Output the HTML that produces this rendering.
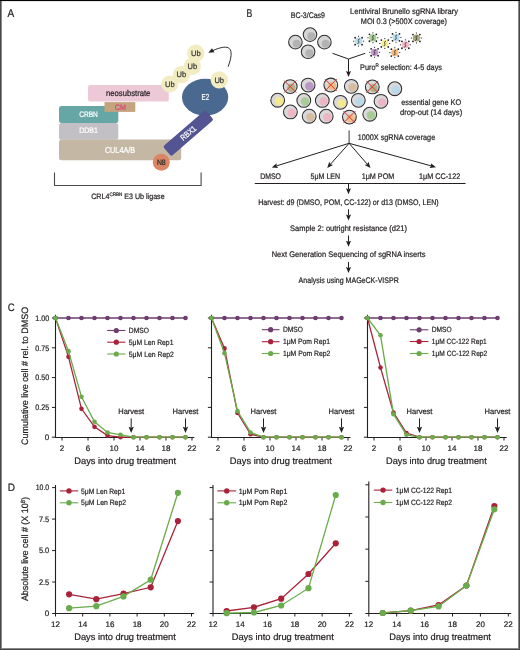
<!DOCTYPE html><html><head><meta charset="utf-8"><style>html,body{margin:0;padding:0;background:#fff;}svg{display:block;will-change:transform;}</style></head><body><svg width="520" height="650" viewBox="0 0 520 650" font-family='"Liberation Sans", sans-serif' text-rendering="geometricPrecision">
<rect x="0" y="0" width="520" height="650" fill="#ffffff"/>
<text x="7.60" y="17.00" font-size="11.3" fill="#231f20" stroke="#231f20" stroke-width="0.22" text-anchor="start" textLength="6.70" lengthAdjust="spacingAndGlyphs" >A</text>
<rect x="88" y="85" width="80.8" height="16.5" rx="2" fill="#edc9d8"/>
<text x="106.00" y="95.90" font-size="8.5" fill="#231f20" stroke="#231f20" stroke-width="0.22" text-anchor="start" textLength="44.40" lengthAdjust="spacingAndGlyphs" >neosubstrate</text>
<rect x="59" y="106" width="59.3" height="17.1" rx="2.5" fill="#66a7a5"/>
<rect x="104.5" y="102.1" width="30.8" height="9.8" fill="#c4a47d"/>
<text x="114.80" y="109.60" font-size="7.8" fill="#d8457c" stroke="#d8457c" stroke-width="0.22" text-anchor="start" textLength="11.20" lengthAdjust="spacingAndGlyphs" >CM</text>
<text x="79.20" y="116.80" font-size="8.0" fill="#ffffff" stroke="#ffffff" stroke-width="0.22" text-anchor="start" textLength="18.60" lengthAdjust="spacingAndGlyphs" >CRBN</text>
<rect x="59" y="123.0" width="59.3" height="16.7" rx="2.5" fill="#c2c0c5"/>
<text x="79.20" y="133.40" font-size="8.0" fill="#ffffff" stroke="#ffffff" stroke-width="0.22" text-anchor="start" textLength="18.60" lengthAdjust="spacingAndGlyphs" >DDB1</text>
<rect x="59" y="139.4" width="122.2" height="20.8" rx="2.5" fill="#c4b7a3"/>
<text x="104.90" y="153.00" font-size="8.7" fill="#ffffff" stroke="#ffffff" stroke-width="0.22" text-anchor="start" textLength="30.20" lengthAdjust="spacingAndGlyphs" >CUL4A/B</text>
<ellipse cx="205.1" cy="97.2" rx="23.1" ry="18.4" fill="#4a6990"/>
<text x="201.60" y="100.10" font-size="8.7" fill="#ffffff" stroke="#ffffff" stroke-width="0.22" text-anchor="start" textLength="7.60" lengthAdjust="spacingAndGlyphs" >E2</text>
<g transform="translate(188.3,133.2) rotate(-40.8)">
<rect x="-28" y="-6.4" width="56" height="12.8" rx="2" fill="#535593"/>
<text x="0" y="2.7" font-size="8.2" fill="#ffffff" stroke="#ffffff" stroke-width="0.22" text-anchor="middle" textLength="17.9" lengthAdjust="spacingAndGlyphs">RBX1</text>
</g>
<circle cx="161.3" cy="162.2" r="8.5" fill="#db8567"/>
<text x="156.90" y="165.00" font-size="7.8" fill="#2a2a2a" stroke="#2a2a2a" stroke-width="0.22" text-anchor="start" textLength="8.80" lengthAdjust="spacingAndGlyphs" >N8</text>
<circle cx="169.8" cy="84.0" r="8.6" fill="#f2ecc3"/>
<circle cx="181.4" cy="74.6" r="8.6" fill="#f2ecc3"/>
<circle cx="192.3" cy="66.3" r="8.6" fill="#f2ecc3"/>
<circle cx="195.8" cy="53.2" r="8.6" fill="#f2ecc3"/>
<circle cx="219.2" cy="79.9" r="8.6" fill="#f2ecc3"/>
<text x="169.80" y="86.60" font-size="7.8" fill="#333333" stroke="#333333" stroke-width="0.22" text-anchor="middle" textLength="9.60" lengthAdjust="spacingAndGlyphs" >Ub</text>
<text x="181.40" y="77.20" font-size="7.8" fill="#333333" stroke="#333333" stroke-width="0.22" text-anchor="middle" textLength="9.60" lengthAdjust="spacingAndGlyphs" >Ub</text>
<text x="192.30" y="68.90" font-size="7.8" fill="#333333" stroke="#333333" stroke-width="0.22" text-anchor="middle" textLength="9.60" lengthAdjust="spacingAndGlyphs" >Ub</text>
<text x="195.80" y="55.80" font-size="7.8" fill="#333333" stroke="#333333" stroke-width="0.22" text-anchor="middle" textLength="9.60" lengthAdjust="spacingAndGlyphs" >Ub</text>
<text x="219.20" y="82.50" font-size="7.8" fill="#333333" stroke="#333333" stroke-width="0.22" text-anchor="middle" textLength="9.60" lengthAdjust="spacingAndGlyphs" >Ub</text>
<path d="M228.1,66.8 C231.2,58.5 232.4,51.5 229.4,48.6 C226.8,46.2 221.5,46.8 212.8,50.6" fill="none" stroke="#222" stroke-width="0.95"/>
<path d="M208.3,52.7 L212.0,48.2 L214.4,52.2 Z" fill="#222"/>
<path d="M54.5,172.4 V185.5 H201.1 V172.4" fill="none" stroke="#4a4a4a" stroke-width="1.1"/>
<text x="91.2" y="199.3" font-size="7.8" fill="#231f20" stroke="#231f20" stroke-width="0.22" textLength="73.4" lengthAdjust="spacingAndGlyphs">CRL4<tspan font-size="5" dy="-3">CRBN</tspan><tspan dy="3"> E3 Ub ligase</tspan></text>
<text x="246.50" y="16.90" font-size="11.3" fill="#231f20" stroke="#231f20" stroke-width="0.22" text-anchor="start" textLength="5.80" lengthAdjust="spacingAndGlyphs" >B</text>
<text x="290.80" y="17.60" font-size="8.1" fill="#231f20" stroke="#231f20" stroke-width="0.22" text-anchor="start" textLength="34.20" lengthAdjust="spacingAndGlyphs" >BC-3/Cas9</text>
<text x="350.00" y="14.20" font-size="8.1" fill="#231f20" stroke="#231f20" stroke-width="0.22" text-anchor="start" textLength="108.00" lengthAdjust="spacingAndGlyphs" >Lentiviral Brunello sgRNA library</text>
<text x="360.80" y="23.90" font-size="8.1" fill="#231f20" stroke="#231f20" stroke-width="0.22" text-anchor="start" textLength="86.20" lengthAdjust="spacingAndGlyphs" >MOI 0.3 (&gt;500X coverage)</text>
<circle cx="310.0" cy="34.6" r="6.8" fill="#d6d6d6" stroke="#2e2e2e" stroke-width="1.05"/>
<circle cx="311.30" cy="36.20" r="4.0" fill="#b3b3b3"/>
<circle cx="295.4" cy="42.1" r="6.8" fill="#d6d6d6" stroke="#2e2e2e" stroke-width="1.05"/>
<circle cx="296.70" cy="43.70" r="4.0" fill="#b3b3b3"/>
<circle cx="324.4" cy="42.1" r="6.8" fill="#d6d6d6" stroke="#2e2e2e" stroke-width="1.05"/>
<circle cx="325.70" cy="43.70" r="4.0" fill="#b3b3b3"/>
<circle cx="308.1" cy="51.7" r="6.8" fill="#d6d6d6" stroke="#2e2e2e" stroke-width="1.05"/>
<circle cx="309.40" cy="53.30" r="4.0" fill="#b3b3b3"/>
<circle cx="358.6" cy="41.2" r="3.6" fill="#bbdcee"/>
<circle cx="362.06" cy="44.66" r="0.9" fill="#1e1e1e"/>
<line x1="358.60" y1="45.50" x2="358.60" y2="46.70" stroke="#333" stroke-width="1.0"/>
<circle cx="355.14" cy="44.66" r="0.9" fill="#1e1e1e"/>
<line x1="354.30" y1="41.20" x2="353.10" y2="41.20" stroke="#333" stroke-width="1.0"/>
<circle cx="355.14" cy="37.74" r="0.9" fill="#1e1e1e"/>
<line x1="358.60" y1="36.90" x2="358.60" y2="35.70" stroke="#333" stroke-width="1.0"/>
<circle cx="362.06" cy="37.74" r="0.9" fill="#1e1e1e"/>
<line x1="362.90" y1="41.20" x2="364.10" y2="41.20" stroke="#333" stroke-width="1.0"/>
<path d="M359.80,38.90 C358.40,38.60 358.00,40.60 358.60,41.20 C359.10,41.80 358.80,43.80 357.40,43.50" fill="none" stroke="#1e1e1e" stroke-width="0.75"/>
<circle cx="372.9" cy="37.8" r="3.6" fill="#a4cc93"/>
<circle cx="376.36" cy="41.26" r="0.9" fill="#1e1e1e"/>
<line x1="372.90" y1="42.10" x2="372.90" y2="43.30" stroke="#333" stroke-width="1.0"/>
<circle cx="369.44" cy="41.26" r="0.9" fill="#1e1e1e"/>
<line x1="368.60" y1="37.80" x2="367.40" y2="37.80" stroke="#333" stroke-width="1.0"/>
<circle cx="369.44" cy="34.34" r="0.9" fill="#1e1e1e"/>
<line x1="372.90" y1="33.50" x2="372.90" y2="32.30" stroke="#333" stroke-width="1.0"/>
<circle cx="376.36" cy="34.34" r="0.9" fill="#1e1e1e"/>
<line x1="377.20" y1="37.80" x2="378.40" y2="37.80" stroke="#333" stroke-width="1.0"/>
<path d="M374.10,35.50 C372.70,35.20 372.30,37.20 372.90,37.80 C373.40,38.40 373.10,40.40 371.70,40.10" fill="none" stroke="#1e1e1e" stroke-width="0.75"/>
<circle cx="384.8" cy="43.5" r="3.6" fill="#f8ee92"/>
<circle cx="388.26" cy="46.96" r="0.9" fill="#1e1e1e"/>
<line x1="384.80" y1="47.80" x2="384.80" y2="49.00" stroke="#333" stroke-width="1.0"/>
<circle cx="381.34" cy="46.96" r="0.9" fill="#1e1e1e"/>
<line x1="380.50" y1="43.50" x2="379.30" y2="43.50" stroke="#333" stroke-width="1.0"/>
<circle cx="381.34" cy="40.04" r="0.9" fill="#1e1e1e"/>
<line x1="384.80" y1="39.20" x2="384.80" y2="38.00" stroke="#333" stroke-width="1.0"/>
<circle cx="388.26" cy="40.04" r="0.9" fill="#1e1e1e"/>
<line x1="389.10" y1="43.50" x2="390.30" y2="43.50" stroke="#333" stroke-width="1.0"/>
<path d="M386.00,41.20 C384.60,40.90 384.20,42.90 384.80,43.50 C385.30,44.10 385.00,46.10 383.60,45.80" fill="none" stroke="#1e1e1e" stroke-width="0.75"/>
<circle cx="396.0" cy="37.4" r="3.6" fill="#bbdcee"/>
<circle cx="399.46" cy="40.86" r="0.9" fill="#1e1e1e"/>
<line x1="396.00" y1="41.70" x2="396.00" y2="42.90" stroke="#333" stroke-width="1.0"/>
<circle cx="392.54" cy="40.86" r="0.9" fill="#1e1e1e"/>
<line x1="391.70" y1="37.40" x2="390.50" y2="37.40" stroke="#333" stroke-width="1.0"/>
<circle cx="392.54" cy="33.94" r="0.9" fill="#1e1e1e"/>
<line x1="396.00" y1="33.10" x2="396.00" y2="31.90" stroke="#333" stroke-width="1.0"/>
<circle cx="399.46" cy="33.94" r="0.9" fill="#1e1e1e"/>
<line x1="400.30" y1="37.40" x2="401.50" y2="37.40" stroke="#333" stroke-width="1.0"/>
<path d="M397.20,35.10 C395.80,34.80 395.40,36.80 396.00,37.40 C396.50,38.00 396.20,40.00 394.80,39.70" fill="none" stroke="#1e1e1e" stroke-width="0.75"/>
<circle cx="405.4" cy="44.8" r="3.6" fill="#f2b8ca"/>
<circle cx="408.86" cy="48.26" r="0.9" fill="#1e1e1e"/>
<line x1="405.40" y1="49.10" x2="405.40" y2="50.30" stroke="#333" stroke-width="1.0"/>
<circle cx="401.94" cy="48.26" r="0.9" fill="#1e1e1e"/>
<line x1="401.10" y1="44.80" x2="399.90" y2="44.80" stroke="#333" stroke-width="1.0"/>
<circle cx="401.94" cy="41.34" r="0.9" fill="#1e1e1e"/>
<line x1="405.40" y1="40.50" x2="405.40" y2="39.30" stroke="#333" stroke-width="1.0"/>
<circle cx="408.86" cy="41.34" r="0.9" fill="#1e1e1e"/>
<line x1="409.70" y1="44.80" x2="410.90" y2="44.80" stroke="#333" stroke-width="1.0"/>
<path d="M406.60,42.50 C405.20,42.20 404.80,44.20 405.40,44.80 C405.90,45.40 405.60,47.40 404.20,47.10" fill="none" stroke="#1e1e1e" stroke-width="0.75"/>
<circle cx="416.4" cy="38.0" r="3.6" fill="#aaa581"/>
<circle cx="419.86" cy="41.46" r="0.9" fill="#1e1e1e"/>
<line x1="416.40" y1="42.30" x2="416.40" y2="43.50" stroke="#333" stroke-width="1.0"/>
<circle cx="412.94" cy="41.46" r="0.9" fill="#1e1e1e"/>
<line x1="412.10" y1="38.00" x2="410.90" y2="38.00" stroke="#333" stroke-width="1.0"/>
<circle cx="412.94" cy="34.54" r="0.9" fill="#1e1e1e"/>
<line x1="416.40" y1="33.70" x2="416.40" y2="32.50" stroke="#333" stroke-width="1.0"/>
<circle cx="419.86" cy="34.54" r="0.9" fill="#1e1e1e"/>
<line x1="420.70" y1="38.00" x2="421.90" y2="38.00" stroke="#333" stroke-width="1.0"/>
<path d="M417.60,35.70 C416.20,35.40 415.80,37.40 416.40,38.00 C416.90,38.60 416.60,40.60 415.20,40.30" fill="none" stroke="#1e1e1e" stroke-width="0.75"/>
<circle cx="374.6" cy="52.3" r="3.6" fill="#bf96cc"/>
<circle cx="378.06" cy="55.76" r="0.9" fill="#1e1e1e"/>
<line x1="374.60" y1="56.60" x2="374.60" y2="57.80" stroke="#333" stroke-width="1.0"/>
<circle cx="371.14" cy="55.76" r="0.9" fill="#1e1e1e"/>
<line x1="370.30" y1="52.30" x2="369.10" y2="52.30" stroke="#333" stroke-width="1.0"/>
<circle cx="371.14" cy="48.84" r="0.9" fill="#1e1e1e"/>
<line x1="374.60" y1="48.00" x2="374.60" y2="46.80" stroke="#333" stroke-width="1.0"/>
<circle cx="378.06" cy="48.84" r="0.9" fill="#1e1e1e"/>
<line x1="378.90" y1="52.30" x2="380.10" y2="52.30" stroke="#333" stroke-width="1.0"/>
<path d="M375.80,50.00 C374.40,49.70 374.00,51.70 374.60,52.30 C375.10,52.90 374.80,54.90 373.40,54.60" fill="none" stroke="#1e1e1e" stroke-width="0.75"/>
<circle cx="394.8" cy="52.6" r="3.6" fill="#f6bb7c"/>
<circle cx="398.26" cy="56.06" r="0.9" fill="#1e1e1e"/>
<line x1="394.80" y1="56.90" x2="394.80" y2="58.10" stroke="#333" stroke-width="1.0"/>
<circle cx="391.34" cy="56.06" r="0.9" fill="#1e1e1e"/>
<line x1="390.50" y1="52.60" x2="389.30" y2="52.60" stroke="#333" stroke-width="1.0"/>
<circle cx="391.34" cy="49.14" r="0.9" fill="#1e1e1e"/>
<line x1="394.80" y1="48.30" x2="394.80" y2="47.10" stroke="#333" stroke-width="1.0"/>
<circle cx="398.26" cy="49.14" r="0.9" fill="#1e1e1e"/>
<line x1="399.10" y1="52.60" x2="400.30" y2="52.60" stroke="#333" stroke-width="1.0"/>
<path d="M396.00,50.30 C394.60,50.00 394.20,52.00 394.80,52.60 C395.30,53.20 395.00,55.20 393.60,54.90" fill="none" stroke="#1e1e1e" stroke-width="0.75"/>
<path d="M332.5,53.3 L348.5,59 L365.2,53.3" fill="none" stroke="#231f20" stroke-width="1.0"/>
<line x1="348.5" y1="59" x2="348.50" y2="71.90" stroke="#231f20" stroke-width="1.0"/>
<path d="M348.50,76.90 L345.95,70.90 L348.50,71.90 L351.05,70.90 Z" fill="#231f20"/>
<text x="360" y="70.4" font-size="8.1" fill="#231f20" stroke="#231f20" stroke-width="0.22" textLength="82" lengthAdjust="spacingAndGlyphs">Puro<tspan font-size="5" dy="-3">R</tspan><tspan dy="3"> selection: 4-5 days</tspan></text>
<circle cx="290.2" cy="86.6" r="6.9" fill="#dad8da" stroke="#2e2e2e" stroke-width="1.05"/>
<circle cx="291.40" cy="87.70" r="4.2" fill="#b5b08c"/>
<circle cx="308.1" cy="85.1" r="6.9" fill="#dad8da" stroke="#2e2e2e" stroke-width="1.05"/>
<circle cx="309.30" cy="86.20" r="4.2" fill="#b996c4"/>
<circle cx="330.8" cy="85.0" r="6.9" fill="#dad8da" stroke="#2e2e2e" stroke-width="1.05"/>
<circle cx="332.00" cy="86.10" r="4.2" fill="#f0bb84"/>
<circle cx="351.3" cy="86.3" r="6.9" fill="#dad8da" stroke="#2e2e2e" stroke-width="1.05"/>
<circle cx="352.50" cy="87.40" r="4.2" fill="#d8bc9f"/>
<circle cx="372.3" cy="86.9" r="6.9" fill="#dad8da" stroke="#2e2e2e" stroke-width="1.05"/>
<circle cx="373.50" cy="88.00" r="4.2" fill="#b5b08c"/>
<circle cx="394.8" cy="88.7" r="6.9" fill="#dad8da" stroke="#2e2e2e" stroke-width="1.05"/>
<circle cx="396.00" cy="89.80" r="4.2" fill="#b9d9ea"/>
<circle cx="277.7" cy="100.2" r="6.9" fill="#dad8da" stroke="#2e2e2e" stroke-width="1.05"/>
<circle cx="278.90" cy="101.30" r="4.2" fill="#f4e98c"/>
<circle cx="303.8" cy="100.4" r="6.9" fill="#dad8da" stroke="#2e2e2e" stroke-width="1.05"/>
<circle cx="305.00" cy="101.50" r="4.2" fill="#a9cb95"/>
<circle cx="322.3" cy="100.4" r="6.9" fill="#dad8da" stroke="#2e2e2e" stroke-width="1.05"/>
<circle cx="323.50" cy="101.50" r="4.2" fill="#ecb6c4"/>
<circle cx="340.4" cy="102.3" r="6.9" fill="#dad8da" stroke="#2e2e2e" stroke-width="1.05"/>
<circle cx="341.60" cy="103.40" r="4.2" fill="#f4e98c"/>
<circle cx="358.3" cy="100.3" r="6.9" fill="#dad8da" stroke="#2e2e2e" stroke-width="1.05"/>
<circle cx="359.50" cy="101.40" r="4.2" fill="#b9d9ea"/>
<circle cx="381.0" cy="101.3" r="6.9" fill="#dad8da" stroke="#2e2e2e" stroke-width="1.05"/>
<circle cx="382.20" cy="102.40" r="4.2" fill="#ecb6c4"/>
<circle cx="290.4" cy="111.9" r="6.9" fill="#dad8da" stroke="#2e2e2e" stroke-width="1.05"/>
<circle cx="291.60" cy="113.00" r="4.2" fill="#ecb6c4"/>
<circle cx="309.2" cy="116.2" r="6.9" fill="#dad8da" stroke="#2e2e2e" stroke-width="1.05"/>
<circle cx="310.40" cy="117.30" r="4.2" fill="#d8bc9f"/>
<circle cx="326.2" cy="116.2" r="6.9" fill="#dad8da" stroke="#2e2e2e" stroke-width="1.05"/>
<circle cx="327.40" cy="117.30" r="4.2" fill="#ecb6c4"/>
<circle cx="349.4" cy="117.1" r="6.9" fill="#dad8da" stroke="#2e2e2e" stroke-width="1.05"/>
<circle cx="350.60" cy="118.20" r="4.2" fill="#f0bb84"/>
<circle cx="369.8" cy="114.2" r="6.9" fill="#dad8da" stroke="#2e2e2e" stroke-width="1.05"/>
<circle cx="371.00" cy="115.30" r="4.2" fill="#a9cb95"/>
<path d="M284.20,80.60 L296.20,92.60 M296.20,80.60 L284.20,92.60" stroke="#d63a3a" stroke-width="1.0"/>
<path d="M324.80,79.00 L336.80,91.00 M336.80,79.00 L324.80,91.00" stroke="#d63a3a" stroke-width="1.0"/>
<path d="M366.30,80.90 L378.30,92.90 M378.30,80.90 L366.30,92.90" stroke="#d63a3a" stroke-width="1.0"/>
<path d="M343.40,111.10 L355.40,123.10 M355.40,111.10 L343.40,123.10" stroke="#d63a3a" stroke-width="1.0"/>
<text x="401.20" y="104.90" font-size="8.1" fill="#231f20" stroke="#231f20" stroke-width="0.22" text-anchor="start" textLength="60.00" lengthAdjust="spacingAndGlyphs" >essential gene KO</text>
<text x="399.90" y="114.60" font-size="8.1" fill="#231f20" stroke="#231f20" stroke-width="0.22" text-anchor="start" textLength="62.30" lengthAdjust="spacingAndGlyphs" >drop-out (14 days)</text>
<text x="357.70" y="139.60" font-size="8.1" fill="#231f20" stroke="#231f20" stroke-width="0.22" text-anchor="start" textLength="77.50" lengthAdjust="spacingAndGlyphs" >1000X sgRNA coverage</text>
<path d="M349.1,130.4 V143.3" stroke="#231f20" stroke-width="0.9"/>
<line x1="349.1" y1="143.3" x2="276.47" y2="165.91" stroke="#231f20" stroke-width="1.0"/>
<path d="M271.70,167.40 L276.67,163.18 L276.47,165.91 L278.19,168.05 Z" fill="#231f20"/>
<line x1="349.1" y1="143.3" x2="330.52" y2="164.17" stroke="#231f20" stroke-width="1.0"/>
<path d="M327.20,167.90 L329.28,161.72 L330.52,164.17 L333.09,165.11 Z" fill="#231f20"/>
<line x1="349.1" y1="143.3" x2="367.22" y2="164.13" stroke="#231f20" stroke-width="1.0"/>
<path d="M370.50,167.90 L364.64,165.05 L367.22,164.13 L368.49,161.70 Z" fill="#231f20"/>
<line x1="349.1" y1="143.3" x2="431.18" y2="165.87" stroke="#231f20" stroke-width="1.0"/>
<path d="M436.00,167.20 L429.54,168.07 L431.18,165.87 L430.89,163.15 Z" fill="#231f20"/>
<text x="260.20" y="178.80" font-size="8.1" fill="#231f20" stroke="#231f20" stroke-width="0.22" text-anchor="start" textLength="20.80" lengthAdjust="spacingAndGlyphs" >DMSO</text>
<text x="310.60" y="178.80" font-size="8.1" fill="#231f20" stroke="#231f20" stroke-width="0.22" text-anchor="start" textLength="29.60" lengthAdjust="spacingAndGlyphs" >5&#956;M LEN</text>
<text x="361.70" y="178.80" font-size="8.1" fill="#231f20" stroke="#231f20" stroke-width="0.22" text-anchor="start" textLength="32.60" lengthAdjust="spacingAndGlyphs" >1&#956;M POM</text>
<text x="419.00" y="178.80" font-size="8.1" fill="#231f20" stroke="#231f20" stroke-width="0.22" text-anchor="start" textLength="41.20" lengthAdjust="spacingAndGlyphs" >1&#956;M CC-122</text>
<line x1="254.8" y1="183.5" x2="465.6" y2="183.5" stroke="#231f20" stroke-width="1.0"/>
<line x1="348.5" y1="183.5" x2="348.50" y2="189.20" stroke="#231f20" stroke-width="1.0"/>
<path d="M348.50,194.20 L345.95,188.20 L348.50,189.20 L351.05,188.20 Z" fill="#231f20"/>
<line x1="348.5" y1="209.3" x2="348.50" y2="215.40" stroke="#231f20" stroke-width="1.0"/>
<path d="M348.50,220.40 L345.95,214.40 L348.50,215.40 L351.05,214.40 Z" fill="#231f20"/>
<line x1="348.5" y1="235.5" x2="348.50" y2="241.80" stroke="#231f20" stroke-width="1.0"/>
<path d="M348.50,246.80 L345.95,240.80 L348.50,241.80 L351.05,240.80 Z" fill="#231f20"/>
<line x1="348.5" y1="261.9" x2="348.50" y2="267.90" stroke="#231f20" stroke-width="1.0"/>
<path d="M348.50,272.90 L345.95,266.90 L348.50,267.90 L351.05,266.90 Z" fill="#231f20"/>
<text x="258.20" y="204.80" font-size="8.1" fill="#231f20" stroke="#231f20" stroke-width="0.22" text-anchor="start" textLength="180.50" lengthAdjust="spacingAndGlyphs" >Harvest: d9 (DMSO, POM, CC-122) or d13 (DMSO, LEN)</text>
<text x="290.00" y="231.20" font-size="8.1" fill="#231f20" stroke="#231f20" stroke-width="0.22" text-anchor="start" textLength="116.90" lengthAdjust="spacingAndGlyphs" >Sample 2: outright resistance (d21)</text>
<text x="271.70" y="257.10" font-size="8.1" fill="#231f20" stroke="#231f20" stroke-width="0.22" text-anchor="start" textLength="153.90" lengthAdjust="spacingAndGlyphs" >Next Generation Sequencing of sgRNA inserts</text>
<text x="298.60" y="282.90" font-size="8.1" fill="#231f20" stroke="#231f20" stroke-width="0.22" text-anchor="start" textLength="100.20" lengthAdjust="spacingAndGlyphs" >Analysis using MAGeCK-VISPR</text>
<text x="7.70" y="310.80" font-size="10.8" fill="#231f20" stroke="#231f20" stroke-width="0.22" text-anchor="start" textLength="6.90" lengthAdjust="spacingAndGlyphs" >C</text>
<text transform="translate(28.1,444.9) rotate(-90)" font-size="9.3" fill="#231f20" stroke="#231f20" stroke-width="0.22" textLength="138" lengthAdjust="spacingAndGlyphs">Cumulative live cell # rel. to DMSO</text>
<path d="M55.5,314.8 V437.5 H194.4" fill="none" stroke="#231f20" stroke-width="1.1"/>
<line x1="51.9" y1="437.20" x2="55.5" y2="437.20" stroke="#231f20" stroke-width="1.0"/>
<text x="49.20" y="440.00" font-size="8.0" fill="#231f20" stroke="#231f20" stroke-width="0.22" text-anchor="end" >0</text>
<line x1="51.9" y1="407.40" x2="55.5" y2="407.40" stroke="#231f20" stroke-width="1.0"/>
<text x="49.20" y="410.20" font-size="8.0" fill="#231f20" stroke="#231f20" stroke-width="0.22" text-anchor="end" textLength="13.90" lengthAdjust="spacingAndGlyphs" >0.25</text>
<line x1="51.9" y1="377.60" x2="55.5" y2="377.60" stroke="#231f20" stroke-width="1.0"/>
<text x="49.20" y="380.40" font-size="8.0" fill="#231f20" stroke="#231f20" stroke-width="0.22" text-anchor="end" textLength="13.90" lengthAdjust="spacingAndGlyphs" >0.50</text>
<line x1="51.9" y1="347.80" x2="55.5" y2="347.80" stroke="#231f20" stroke-width="1.0"/>
<text x="49.20" y="350.60" font-size="8.0" fill="#231f20" stroke="#231f20" stroke-width="0.22" text-anchor="end" textLength="13.90" lengthAdjust="spacingAndGlyphs" >0.75</text>
<line x1="51.9" y1="318.00" x2="55.5" y2="318.00" stroke="#231f20" stroke-width="1.0"/>
<text x="49.20" y="320.80" font-size="8.0" fill="#231f20" stroke="#231f20" stroke-width="0.22" text-anchor="end" textLength="13.90" lengthAdjust="spacingAndGlyphs" >1.00</text>
<line x1="62.00" y1="437.5" x2="62.00" y2="440.5" stroke="#231f20" stroke-width="1.0"/>
<text x="62.00" y="450.80" font-size="8.0" fill="#231f20" stroke="#231f20" stroke-width="0.22" text-anchor="middle" >2</text>
<line x1="88.00" y1="437.5" x2="88.00" y2="440.5" stroke="#231f20" stroke-width="1.0"/>
<text x="88.00" y="450.80" font-size="8.0" fill="#231f20" stroke="#231f20" stroke-width="0.22" text-anchor="middle" >6</text>
<line x1="114.00" y1="437.5" x2="114.00" y2="440.5" stroke="#231f20" stroke-width="1.0"/>
<text x="114.00" y="450.80" font-size="8.0" fill="#231f20" stroke="#231f20" stroke-width="0.22" text-anchor="middle" >10</text>
<line x1="140.00" y1="437.5" x2="140.00" y2="440.5" stroke="#231f20" stroke-width="1.0"/>
<text x="140.00" y="450.80" font-size="8.0" fill="#231f20" stroke="#231f20" stroke-width="0.22" text-anchor="middle" >14</text>
<line x1="166.00" y1="437.5" x2="166.00" y2="440.5" stroke="#231f20" stroke-width="1.0"/>
<text x="166.00" y="450.80" font-size="8.0" fill="#231f20" stroke="#231f20" stroke-width="0.22" text-anchor="middle" >18</text>
<line x1="192.00" y1="437.5" x2="192.00" y2="440.5" stroke="#231f20" stroke-width="1.0"/>
<text x="192.00" y="450.80" font-size="8.0" fill="#231f20" stroke="#231f20" stroke-width="0.22" text-anchor="middle" >22</text>
<polyline points="55.50,318.00 68.50,318.00 81.50,318.00 94.50,318.00 107.50,318.00 120.50,318.00 133.50,318.00 146.50,318.00 159.50,318.00 172.50,318.00 185.50,318.00" fill="none" stroke="#6d3d70" stroke-width="1.3"/>
<circle cx="55.50" cy="318.00" r="2.3" fill="#6d3d70"/>
<circle cx="68.50" cy="318.00" r="2.3" fill="#6d3d70"/>
<circle cx="81.50" cy="318.00" r="2.3" fill="#6d3d70"/>
<circle cx="94.50" cy="318.00" r="2.3" fill="#6d3d70"/>
<circle cx="107.50" cy="318.00" r="2.3" fill="#6d3d70"/>
<circle cx="120.50" cy="318.00" r="2.3" fill="#6d3d70"/>
<circle cx="133.50" cy="318.00" r="2.3" fill="#6d3d70"/>
<circle cx="146.50" cy="318.00" r="2.3" fill="#6d3d70"/>
<circle cx="159.50" cy="318.00" r="2.3" fill="#6d3d70"/>
<circle cx="172.50" cy="318.00" r="2.3" fill="#6d3d70"/>
<circle cx="185.50" cy="318.00" r="2.3" fill="#6d3d70"/>
<polyline points="55.50,318.00 68.50,356.86 81.50,408.83 94.50,426.83 107.50,435.53 120.50,437.20 133.50,437.20 146.50,437.20 159.50,437.20 172.50,437.20 185.50,437.20" fill="none" stroke="#a8233a" stroke-width="1.3"/>
<circle cx="55.50" cy="318.00" r="2.3" fill="#a8233a"/>
<circle cx="68.50" cy="356.86" r="2.3" fill="#a8233a"/>
<circle cx="81.50" cy="408.83" r="2.3" fill="#a8233a"/>
<circle cx="94.50" cy="426.83" r="2.3" fill="#a8233a"/>
<circle cx="107.50" cy="435.53" r="2.3" fill="#a8233a"/>
<circle cx="120.50" cy="437.20" r="2.3" fill="#a8233a"/>
<circle cx="133.50" cy="437.20" r="2.3" fill="#a8233a"/>
<circle cx="146.50" cy="437.20" r="2.3" fill="#a8233a"/>
<circle cx="159.50" cy="437.20" r="2.3" fill="#a8233a"/>
<circle cx="172.50" cy="437.20" r="2.3" fill="#a8233a"/>
<circle cx="185.50" cy="437.20" r="2.3" fill="#a8233a"/>
<polyline points="55.50,318.00 68.50,351.14 81.50,396.79 94.50,421.82 107.50,432.43 120.50,434.82 133.50,437.20 146.50,437.20 159.50,437.20 172.50,437.20 185.50,437.20" fill="none" stroke="#6aab4b" stroke-width="1.3"/>
<circle cx="55.50" cy="318.00" r="2.3" fill="#6aab4b"/>
<circle cx="68.50" cy="351.14" r="2.3" fill="#6aab4b"/>
<circle cx="81.50" cy="396.79" r="2.3" fill="#6aab4b"/>
<circle cx="94.50" cy="421.82" r="2.3" fill="#6aab4b"/>
<circle cx="107.50" cy="432.43" r="2.3" fill="#6aab4b"/>
<circle cx="120.50" cy="434.82" r="2.3" fill="#6aab4b"/>
<circle cx="133.50" cy="437.20" r="2.3" fill="#6aab4b"/>
<circle cx="146.50" cy="437.20" r="2.3" fill="#6aab4b"/>
<circle cx="159.50" cy="437.20" r="2.3" fill="#6aab4b"/>
<circle cx="172.50" cy="437.20" r="2.3" fill="#6aab4b"/>
<circle cx="185.50" cy="437.20" r="2.3" fill="#6aab4b"/>
<text x="131.20" y="413.60" font-size="7.8" fill="#231f20" stroke="#231f20" stroke-width="0.22" text-anchor="middle" textLength="25.80" lengthAdjust="spacingAndGlyphs" >Harvest</text>
<line x1="131.2" y1="418.4" x2="131.20" y2="427.70" stroke="#231f20" stroke-width="1.0"/>
<path d="M131.20,433.00 L128.55,426.70 L131.20,427.70 L133.85,426.70 Z" fill="#231f20"/>
<text x="185.50" y="413.60" font-size="7.8" fill="#231f20" stroke="#231f20" stroke-width="0.22" text-anchor="middle" textLength="25.80" lengthAdjust="spacingAndGlyphs" >Harvest</text>
<line x1="185.5" y1="418.4" x2="185.50" y2="427.70" stroke="#231f20" stroke-width="1.0"/>
<path d="M185.50,433.00 L182.85,426.70 L185.50,427.70 L188.15,426.70 Z" fill="#231f20"/>
<line x1="107.2" y1="330.5" x2="125.4" y2="330.5" stroke="#6d3d70" stroke-width="1.1"/>
<circle cx="116.30" cy="330.5" r="2.6" fill="#6d3d70"/>
<text x="128.80" y="333.10" font-size="7.6" fill="#231f20" stroke="#231f20" stroke-width="0.22" text-anchor="start" textLength="20.10" lengthAdjust="spacingAndGlyphs" >DMSO</text>
<line x1="107.2" y1="342.2" x2="125.4" y2="342.2" stroke="#a8233a" stroke-width="1.1"/>
<circle cx="116.30" cy="342.2" r="2.6" fill="#a8233a"/>
<text x="128.80" y="344.80" font-size="7.6" fill="#231f20" stroke="#231f20" stroke-width="0.22" text-anchor="start" textLength="44.60" lengthAdjust="spacingAndGlyphs" >5&#956;M Len Rep1</text>
<line x1="107.2" y1="354.0" x2="125.4" y2="354.0" stroke="#6aab4b" stroke-width="1.1"/>
<circle cx="116.30" cy="354.0" r="2.6" fill="#6aab4b"/>
<text x="128.80" y="356.60" font-size="7.6" fill="#231f20" stroke="#231f20" stroke-width="0.22" text-anchor="start" textLength="45.00" lengthAdjust="spacingAndGlyphs" >5&#956;M Len Rep2</text>
<text x="74.30" y="463.80" font-size="9.4" fill="#231f20" stroke="#231f20" stroke-width="0.22" text-anchor="start" textLength="101.70" lengthAdjust="spacingAndGlyphs" >Days into drug treatment</text>
<path d="M211.5,314.8 V437.5 H350.4" fill="none" stroke="#231f20" stroke-width="1.1"/>
<line x1="207.9" y1="437.20" x2="211.5" y2="437.20" stroke="#231f20" stroke-width="1.0"/>
<line x1="207.9" y1="407.40" x2="211.5" y2="407.40" stroke="#231f20" stroke-width="1.0"/>
<line x1="207.9" y1="377.60" x2="211.5" y2="377.60" stroke="#231f20" stroke-width="1.0"/>
<line x1="207.9" y1="347.80" x2="211.5" y2="347.80" stroke="#231f20" stroke-width="1.0"/>
<line x1="207.9" y1="318.00" x2="211.5" y2="318.00" stroke="#231f20" stroke-width="1.0"/>
<line x1="218.00" y1="437.5" x2="218.00" y2="440.5" stroke="#231f20" stroke-width="1.0"/>
<text x="218.00" y="450.80" font-size="8.0" fill="#231f20" stroke="#231f20" stroke-width="0.22" text-anchor="middle" >2</text>
<line x1="244.00" y1="437.5" x2="244.00" y2="440.5" stroke="#231f20" stroke-width="1.0"/>
<text x="244.00" y="450.80" font-size="8.0" fill="#231f20" stroke="#231f20" stroke-width="0.22" text-anchor="middle" >6</text>
<line x1="270.00" y1="437.5" x2="270.00" y2="440.5" stroke="#231f20" stroke-width="1.0"/>
<text x="270.00" y="450.80" font-size="8.0" fill="#231f20" stroke="#231f20" stroke-width="0.22" text-anchor="middle" >10</text>
<line x1="296.00" y1="437.5" x2="296.00" y2="440.5" stroke="#231f20" stroke-width="1.0"/>
<text x="296.00" y="450.80" font-size="8.0" fill="#231f20" stroke="#231f20" stroke-width="0.22" text-anchor="middle" >14</text>
<line x1="322.00" y1="437.5" x2="322.00" y2="440.5" stroke="#231f20" stroke-width="1.0"/>
<text x="322.00" y="450.80" font-size="8.0" fill="#231f20" stroke="#231f20" stroke-width="0.22" text-anchor="middle" >18</text>
<line x1="348.00" y1="437.5" x2="348.00" y2="440.5" stroke="#231f20" stroke-width="1.0"/>
<text x="348.00" y="450.80" font-size="8.0" fill="#231f20" stroke="#231f20" stroke-width="0.22" text-anchor="middle" >22</text>
<polyline points="211.50,318.00 224.50,318.00 237.50,318.00 250.50,318.00 263.50,318.00 276.50,318.00 289.50,318.00 302.50,318.00 315.50,318.00 328.50,318.00 341.50,318.00" fill="none" stroke="#6d3d70" stroke-width="1.3"/>
<circle cx="211.50" cy="318.00" r="2.3" fill="#6d3d70"/>
<circle cx="224.50" cy="318.00" r="2.3" fill="#6d3d70"/>
<circle cx="237.50" cy="318.00" r="2.3" fill="#6d3d70"/>
<circle cx="250.50" cy="318.00" r="2.3" fill="#6d3d70"/>
<circle cx="263.50" cy="318.00" r="2.3" fill="#6d3d70"/>
<circle cx="276.50" cy="318.00" r="2.3" fill="#6d3d70"/>
<circle cx="289.50" cy="318.00" r="2.3" fill="#6d3d70"/>
<circle cx="302.50" cy="318.00" r="2.3" fill="#6d3d70"/>
<circle cx="315.50" cy="318.00" r="2.3" fill="#6d3d70"/>
<circle cx="328.50" cy="318.00" r="2.3" fill="#6d3d70"/>
<circle cx="341.50" cy="318.00" r="2.3" fill="#6d3d70"/>
<polyline points="211.50,318.00 224.50,348.40 237.50,412.88 250.50,434.22 263.50,437.20 276.50,437.20 289.50,437.20 302.50,437.20 315.50,437.20 328.50,437.20 341.50,437.20" fill="none" stroke="#a8233a" stroke-width="1.3"/>
<circle cx="211.50" cy="318.00" r="2.3" fill="#a8233a"/>
<circle cx="224.50" cy="348.40" r="2.3" fill="#a8233a"/>
<circle cx="237.50" cy="412.88" r="2.3" fill="#a8233a"/>
<circle cx="250.50" cy="434.22" r="2.3" fill="#a8233a"/>
<circle cx="263.50" cy="437.20" r="2.3" fill="#a8233a"/>
<circle cx="276.50" cy="437.20" r="2.3" fill="#a8233a"/>
<circle cx="289.50" cy="437.20" r="2.3" fill="#a8233a"/>
<circle cx="302.50" cy="437.20" r="2.3" fill="#a8233a"/>
<circle cx="315.50" cy="437.20" r="2.3" fill="#a8233a"/>
<circle cx="328.50" cy="437.20" r="2.3" fill="#a8233a"/>
<circle cx="341.50" cy="437.20" r="2.3" fill="#a8233a"/>
<polyline points="211.50,318.00 224.50,353.16 237.50,410.98 250.50,432.43 263.50,437.20 276.50,437.20 289.50,437.20 302.50,437.20 315.50,437.20 328.50,437.20 341.50,437.20" fill="none" stroke="#6aab4b" stroke-width="1.3"/>
<circle cx="211.50" cy="318.00" r="2.3" fill="#6aab4b"/>
<circle cx="224.50" cy="353.16" r="2.3" fill="#6aab4b"/>
<circle cx="237.50" cy="410.98" r="2.3" fill="#6aab4b"/>
<circle cx="250.50" cy="432.43" r="2.3" fill="#6aab4b"/>
<circle cx="263.50" cy="437.20" r="2.3" fill="#6aab4b"/>
<circle cx="276.50" cy="437.20" r="2.3" fill="#6aab4b"/>
<circle cx="289.50" cy="437.20" r="2.3" fill="#6aab4b"/>
<circle cx="302.50" cy="437.20" r="2.3" fill="#6aab4b"/>
<circle cx="315.50" cy="437.20" r="2.3" fill="#6aab4b"/>
<circle cx="328.50" cy="437.20" r="2.3" fill="#6aab4b"/>
<circle cx="341.50" cy="437.20" r="2.3" fill="#6aab4b"/>
<text x="263.50" y="413.60" font-size="7.8" fill="#231f20" stroke="#231f20" stroke-width="0.22" text-anchor="middle" textLength="25.80" lengthAdjust="spacingAndGlyphs" >Harvest</text>
<line x1="263.5" y1="418.4" x2="263.50" y2="427.70" stroke="#231f20" stroke-width="1.0"/>
<path d="M263.50,433.00 L260.85,426.70 L263.50,427.70 L266.15,426.70 Z" fill="#231f20"/>
<text x="341.50" y="413.60" font-size="7.8" fill="#231f20" stroke="#231f20" stroke-width="0.22" text-anchor="middle" textLength="25.80" lengthAdjust="spacingAndGlyphs" >Harvest</text>
<line x1="341.5" y1="418.4" x2="341.50" y2="427.70" stroke="#231f20" stroke-width="1.0"/>
<path d="M341.50,433.00 L338.85,426.70 L341.50,427.70 L344.15,426.70 Z" fill="#231f20"/>
<line x1="261.8" y1="329.7" x2="279.5" y2="329.7" stroke="#6d3d70" stroke-width="1.1"/>
<circle cx="270.65" cy="329.7" r="2.6" fill="#6d3d70"/>
<text x="282.90" y="332.30" font-size="7.6" fill="#231f20" stroke="#231f20" stroke-width="0.22" text-anchor="start" textLength="20.00" lengthAdjust="spacingAndGlyphs" >DMSO</text>
<line x1="261.8" y1="341.7" x2="279.5" y2="341.7" stroke="#a8233a" stroke-width="1.1"/>
<circle cx="270.65" cy="341.7" r="2.6" fill="#a8233a"/>
<text x="282.90" y="344.30" font-size="7.6" fill="#231f20" stroke="#231f20" stroke-width="0.22" text-anchor="start" textLength="47.10" lengthAdjust="spacingAndGlyphs" >1&#956;M Pom Rep1</text>
<line x1="261.8" y1="353.5" x2="279.5" y2="353.5" stroke="#6aab4b" stroke-width="1.1"/>
<circle cx="270.65" cy="353.5" r="2.6" fill="#6aab4b"/>
<text x="282.90" y="356.10" font-size="7.6" fill="#231f20" stroke="#231f20" stroke-width="0.22" text-anchor="start" textLength="47.40" lengthAdjust="spacingAndGlyphs" >1&#956;M Pom Rep2</text>
<text x="229.80" y="463.80" font-size="9.4" fill="#231f20" stroke="#231f20" stroke-width="0.22" text-anchor="start" textLength="102.10" lengthAdjust="spacingAndGlyphs" >Days into drug treatment</text>
<path d="M367.5,314.8 V437.5 H506.7" fill="none" stroke="#231f20" stroke-width="1.1"/>
<line x1="363.9" y1="437.20" x2="367.5" y2="437.20" stroke="#231f20" stroke-width="1.0"/>
<line x1="363.9" y1="407.40" x2="367.5" y2="407.40" stroke="#231f20" stroke-width="1.0"/>
<line x1="363.9" y1="377.60" x2="367.5" y2="377.60" stroke="#231f20" stroke-width="1.0"/>
<line x1="363.9" y1="347.80" x2="367.5" y2="347.80" stroke="#231f20" stroke-width="1.0"/>
<line x1="363.9" y1="318.00" x2="367.5" y2="318.00" stroke="#231f20" stroke-width="1.0"/>
<line x1="374.00" y1="437.5" x2="374.00" y2="440.5" stroke="#231f20" stroke-width="1.0"/>
<text x="374.00" y="450.80" font-size="8.0" fill="#231f20" stroke="#231f20" stroke-width="0.22" text-anchor="middle" >2</text>
<line x1="400.00" y1="437.5" x2="400.00" y2="440.5" stroke="#231f20" stroke-width="1.0"/>
<text x="400.00" y="450.80" font-size="8.0" fill="#231f20" stroke="#231f20" stroke-width="0.22" text-anchor="middle" >6</text>
<line x1="426.00" y1="437.5" x2="426.00" y2="440.5" stroke="#231f20" stroke-width="1.0"/>
<text x="426.00" y="450.80" font-size="8.0" fill="#231f20" stroke="#231f20" stroke-width="0.22" text-anchor="middle" >10</text>
<line x1="452.00" y1="437.5" x2="452.00" y2="440.5" stroke="#231f20" stroke-width="1.0"/>
<text x="452.00" y="450.80" font-size="8.0" fill="#231f20" stroke="#231f20" stroke-width="0.22" text-anchor="middle" >14</text>
<line x1="478.00" y1="437.5" x2="478.00" y2="440.5" stroke="#231f20" stroke-width="1.0"/>
<text x="478.00" y="450.80" font-size="8.0" fill="#231f20" stroke="#231f20" stroke-width="0.22" text-anchor="middle" >18</text>
<line x1="504.00" y1="437.5" x2="504.00" y2="440.5" stroke="#231f20" stroke-width="1.0"/>
<text x="504.00" y="450.80" font-size="8.0" fill="#231f20" stroke="#231f20" stroke-width="0.22" text-anchor="middle" >22</text>
<polyline points="367.50,318.00 380.50,318.00 393.50,318.00 406.50,318.00 419.50,318.00 432.50,318.00 445.50,318.00 458.50,318.00 471.50,318.00 484.50,318.00 497.50,318.00" fill="none" stroke="#6d3d70" stroke-width="1.3"/>
<circle cx="367.50" cy="318.00" r="2.3" fill="#6d3d70"/>
<circle cx="380.50" cy="318.00" r="2.3" fill="#6d3d70"/>
<circle cx="393.50" cy="318.00" r="2.3" fill="#6d3d70"/>
<circle cx="406.50" cy="318.00" r="2.3" fill="#6d3d70"/>
<circle cx="419.50" cy="318.00" r="2.3" fill="#6d3d70"/>
<circle cx="432.50" cy="318.00" r="2.3" fill="#6d3d70"/>
<circle cx="445.50" cy="318.00" r="2.3" fill="#6d3d70"/>
<circle cx="458.50" cy="318.00" r="2.3" fill="#6d3d70"/>
<circle cx="471.50" cy="318.00" r="2.3" fill="#6d3d70"/>
<circle cx="484.50" cy="318.00" r="2.3" fill="#6d3d70"/>
<circle cx="497.50" cy="318.00" r="2.3" fill="#6d3d70"/>
<polyline points="367.50,318.00 380.50,367.59 393.50,412.64 406.50,433.03 419.50,437.20 432.50,437.20 445.50,437.20 458.50,437.20 471.50,437.20 484.50,437.20 497.50,437.20" fill="none" stroke="#a8233a" stroke-width="1.3"/>
<circle cx="367.50" cy="318.00" r="2.3" fill="#a8233a"/>
<circle cx="380.50" cy="367.59" r="2.3" fill="#a8233a"/>
<circle cx="393.50" cy="412.64" r="2.3" fill="#a8233a"/>
<circle cx="406.50" cy="433.03" r="2.3" fill="#a8233a"/>
<circle cx="419.50" cy="437.20" r="2.3" fill="#a8233a"/>
<circle cx="432.50" cy="437.20" r="2.3" fill="#a8233a"/>
<circle cx="445.50" cy="437.20" r="2.3" fill="#a8233a"/>
<circle cx="458.50" cy="437.20" r="2.3" fill="#a8233a"/>
<circle cx="471.50" cy="437.20" r="2.3" fill="#a8233a"/>
<circle cx="484.50" cy="437.20" r="2.3" fill="#a8233a"/>
<circle cx="497.50" cy="437.20" r="2.3" fill="#a8233a"/>
<polyline points="367.50,318.00 380.50,335.28 393.50,414.19 406.50,434.82 419.50,437.20 432.50,437.20 445.50,437.20 458.50,437.20 471.50,437.20 484.50,437.20 497.50,437.20" fill="none" stroke="#6aab4b" stroke-width="1.3"/>
<circle cx="367.50" cy="318.00" r="2.3" fill="#6aab4b"/>
<circle cx="380.50" cy="335.28" r="2.3" fill="#6aab4b"/>
<circle cx="393.50" cy="414.19" r="2.3" fill="#6aab4b"/>
<circle cx="406.50" cy="434.82" r="2.3" fill="#6aab4b"/>
<circle cx="419.50" cy="437.20" r="2.3" fill="#6aab4b"/>
<circle cx="432.50" cy="437.20" r="2.3" fill="#6aab4b"/>
<circle cx="445.50" cy="437.20" r="2.3" fill="#6aab4b"/>
<circle cx="458.50" cy="437.20" r="2.3" fill="#6aab4b"/>
<circle cx="471.50" cy="437.20" r="2.3" fill="#6aab4b"/>
<circle cx="484.50" cy="437.20" r="2.3" fill="#6aab4b"/>
<circle cx="497.50" cy="437.20" r="2.3" fill="#6aab4b"/>
<text x="419.50" y="413.60" font-size="7.8" fill="#231f20" stroke="#231f20" stroke-width="0.22" text-anchor="middle" textLength="25.80" lengthAdjust="spacingAndGlyphs" >Harvest</text>
<line x1="419.5" y1="418.4" x2="419.50" y2="427.70" stroke="#231f20" stroke-width="1.0"/>
<path d="M419.50,433.00 L416.85,426.70 L419.50,427.70 L422.15,426.70 Z" fill="#231f20"/>
<text x="497.50" y="413.60" font-size="7.8" fill="#231f20" stroke="#231f20" stroke-width="0.22" text-anchor="middle" textLength="25.80" lengthAdjust="spacingAndGlyphs" >Harvest</text>
<line x1="497.5" y1="418.4" x2="497.50" y2="427.70" stroke="#231f20" stroke-width="1.0"/>
<path d="M497.50,433.00 L494.85,426.70 L497.50,427.70 L500.15,426.70 Z" fill="#231f20"/>
<line x1="409.8" y1="329.8" x2="428.4" y2="329.8" stroke="#6d3d70" stroke-width="1.1"/>
<circle cx="419.10" cy="329.8" r="2.6" fill="#6d3d70"/>
<text x="431.80" y="332.40" font-size="7.6" fill="#231f20" stroke="#231f20" stroke-width="0.22" text-anchor="start" textLength="19.90" lengthAdjust="spacingAndGlyphs" >DMSO</text>
<line x1="409.8" y1="341.5" x2="428.4" y2="341.5" stroke="#a8233a" stroke-width="1.1"/>
<circle cx="419.10" cy="341.5" r="2.6" fill="#a8233a"/>
<text x="431.80" y="344.10" font-size="7.6" fill="#231f20" stroke="#231f20" stroke-width="0.22" text-anchor="start" textLength="54.90" lengthAdjust="spacingAndGlyphs" >1&#956;M CC-122 Rep1</text>
<line x1="409.8" y1="353.5" x2="428.4" y2="353.5" stroke="#6aab4b" stroke-width="1.1"/>
<circle cx="419.10" cy="353.5" r="2.6" fill="#6aab4b"/>
<text x="431.80" y="356.10" font-size="7.6" fill="#231f20" stroke="#231f20" stroke-width="0.22" text-anchor="start" textLength="55.40" lengthAdjust="spacingAndGlyphs" >1&#956;M CC-122 Rep2</text>
<text x="386.10" y="463.80" font-size="9.4" fill="#231f20" stroke="#231f20" stroke-width="0.22" text-anchor="start" textLength="100.60" lengthAdjust="spacingAndGlyphs" >Days into drug treatment</text>
<text x="7.70" y="491.20" font-size="10.8" fill="#231f20" stroke="#231f20" stroke-width="0.22" text-anchor="start" textLength="7.30" lengthAdjust="spacingAndGlyphs" >D</text>
<text transform="translate(28.4,601.1) rotate(-90)" font-size="9.3" fill="#231f20" stroke="#231f20" stroke-width="0.22" textLength="104" lengthAdjust="spacingAndGlyphs">Absolute live cell # (X 10<tspan font-size="6" dy="-3.4">8</tspan><tspan dy="3.4">)</tspan></text>
<path d="M55.5,484.9 V613.5 H194.2" fill="none" stroke="#231f20" stroke-width="1.1"/>
<line x1="52.1" y1="613.50" x2="55.5" y2="613.50" stroke="#231f20" stroke-width="1.0"/>
<text x="49.20" y="616.30" font-size="8.0" fill="#231f20" stroke="#231f20" stroke-width="0.22" text-anchor="end" >0</text>
<line x1="52.1" y1="582.02" x2="55.5" y2="582.02" stroke="#231f20" stroke-width="1.0"/>
<text x="49.20" y="584.82" font-size="8.0" fill="#231f20" stroke="#231f20" stroke-width="0.22" text-anchor="end" textLength="10.30" lengthAdjust="spacingAndGlyphs" >2.5</text>
<line x1="52.1" y1="550.55" x2="55.5" y2="550.55" stroke="#231f20" stroke-width="1.0"/>
<text x="49.20" y="553.35" font-size="8.0" fill="#231f20" stroke="#231f20" stroke-width="0.22" text-anchor="end" textLength="10.30" lengthAdjust="spacingAndGlyphs" >5.0</text>
<line x1="52.1" y1="519.08" x2="55.5" y2="519.08" stroke="#231f20" stroke-width="1.0"/>
<text x="49.20" y="521.88" font-size="8.0" fill="#231f20" stroke="#231f20" stroke-width="0.22" text-anchor="end" textLength="10.30" lengthAdjust="spacingAndGlyphs" >7.5</text>
<line x1="52.1" y1="487.60" x2="55.5" y2="487.60" stroke="#231f20" stroke-width="1.0"/>
<text x="49.20" y="490.40" font-size="8.0" fill="#231f20" stroke="#231f20" stroke-width="0.22" text-anchor="end" textLength="13.50" lengthAdjust="spacingAndGlyphs" >10.0</text>
<line x1="55.50" y1="613.5" x2="55.50" y2="616.5" stroke="#231f20" stroke-width="1.0"/>
<text x="55.50" y="626.60" font-size="8.0" fill="#231f20" stroke="#231f20" stroke-width="0.22" text-anchor="middle" >12</text>
<line x1="82.70" y1="613.5" x2="82.70" y2="616.5" stroke="#231f20" stroke-width="1.0"/>
<text x="82.70" y="626.60" font-size="8.0" fill="#231f20" stroke="#231f20" stroke-width="0.22" text-anchor="middle" >14</text>
<line x1="109.90" y1="613.5" x2="109.90" y2="616.5" stroke="#231f20" stroke-width="1.0"/>
<text x="109.90" y="626.60" font-size="8.0" fill="#231f20" stroke="#231f20" stroke-width="0.22" text-anchor="middle" >16</text>
<line x1="137.10" y1="613.5" x2="137.10" y2="616.5" stroke="#231f20" stroke-width="1.0"/>
<text x="137.10" y="626.60" font-size="8.0" fill="#231f20" stroke="#231f20" stroke-width="0.22" text-anchor="middle" >18</text>
<line x1="164.30" y1="613.5" x2="164.30" y2="616.5" stroke="#231f20" stroke-width="1.0"/>
<text x="164.30" y="626.60" font-size="8.0" fill="#231f20" stroke="#231f20" stroke-width="0.22" text-anchor="middle" >20</text>
<line x1="191.50" y1="613.5" x2="191.50" y2="616.5" stroke="#231f20" stroke-width="1.0"/>
<text x="191.50" y="626.60" font-size="8.0" fill="#231f20" stroke="#231f20" stroke-width="0.22" text-anchor="middle" >22</text>
<polyline points="69.10,594.30 96.30,599.20 123.50,593.70 150.70,587.30 177.90,521.10" fill="none" stroke="#a8233a" stroke-width="1.3"/>
<circle cx="69.10" cy="594.30" r="3.1" fill="#a8233a"/>
<circle cx="96.30" cy="599.20" r="3.1" fill="#a8233a"/>
<circle cx="123.50" cy="593.70" r="3.1" fill="#a8233a"/>
<circle cx="150.70" cy="587.30" r="3.1" fill="#a8233a"/>
<circle cx="177.90" cy="521.10" r="3.1" fill="#a8233a"/>
<polyline points="69.10,608.20 96.30,606.20 123.50,596.40 150.70,579.70 177.90,492.80" fill="none" stroke="#6aab4b" stroke-width="1.3"/>
<circle cx="69.10" cy="608.20" r="3.1" fill="#6aab4b"/>
<circle cx="96.30" cy="606.20" r="3.1" fill="#6aab4b"/>
<circle cx="123.50" cy="596.40" r="3.1" fill="#6aab4b"/>
<circle cx="150.70" cy="579.70" r="3.1" fill="#6aab4b"/>
<circle cx="177.90" cy="492.80" r="3.1" fill="#6aab4b"/>
<line x1="59.8" y1="490.9" x2="78.2" y2="490.9" stroke="#a8233a" stroke-width="1.1"/>
<circle cx="69.00" cy="490.9" r="2.7" fill="#a8233a"/>
<text x="81.10" y="493.50" font-size="7.6" fill="#231f20" stroke="#231f20" stroke-width="0.22" text-anchor="start" textLength="44.20" lengthAdjust="spacingAndGlyphs" >5&#956;M Len Rep1</text>
<line x1="59.8" y1="502.8" x2="78.2" y2="502.8" stroke="#6aab4b" stroke-width="1.1"/>
<circle cx="69.00" cy="502.8" r="2.7" fill="#6aab4b"/>
<text x="81.10" y="505.40" font-size="7.6" fill="#231f20" stroke="#231f20" stroke-width="0.22" text-anchor="start" textLength="44.90" lengthAdjust="spacingAndGlyphs" >5&#956;M Len Rep2</text>
<text x="74.20" y="640.20" font-size="9.4" fill="#231f20" stroke="#231f20" stroke-width="0.22" text-anchor="start" textLength="101.60" lengthAdjust="spacingAndGlyphs" >Days into drug treatment</text>
<path d="M213.0,484.9 V613.5 H352.3" fill="none" stroke="#231f20" stroke-width="1.1"/>
<line x1="209.6" y1="613.50" x2="213.0" y2="613.50" stroke="#231f20" stroke-width="1.0"/>
<line x1="209.6" y1="582.02" x2="213.0" y2="582.02" stroke="#231f20" stroke-width="1.0"/>
<line x1="209.6" y1="550.55" x2="213.0" y2="550.55" stroke="#231f20" stroke-width="1.0"/>
<line x1="209.6" y1="519.08" x2="213.0" y2="519.08" stroke="#231f20" stroke-width="1.0"/>
<line x1="209.6" y1="487.60" x2="213.0" y2="487.60" stroke="#231f20" stroke-width="1.0"/>
<line x1="213.00" y1="613.5" x2="213.00" y2="616.5" stroke="#231f20" stroke-width="1.0"/>
<text x="213.00" y="626.60" font-size="8.0" fill="#231f20" stroke="#231f20" stroke-width="0.22" text-anchor="middle" >12</text>
<line x1="240.28" y1="613.5" x2="240.28" y2="616.5" stroke="#231f20" stroke-width="1.0"/>
<text x="240.28" y="626.60" font-size="8.0" fill="#231f20" stroke="#231f20" stroke-width="0.22" text-anchor="middle" >14</text>
<line x1="267.56" y1="613.5" x2="267.56" y2="616.5" stroke="#231f20" stroke-width="1.0"/>
<text x="267.56" y="626.60" font-size="8.0" fill="#231f20" stroke="#231f20" stroke-width="0.22" text-anchor="middle" >16</text>
<line x1="294.84" y1="613.5" x2="294.84" y2="616.5" stroke="#231f20" stroke-width="1.0"/>
<text x="294.84" y="626.60" font-size="8.0" fill="#231f20" stroke="#231f20" stroke-width="0.22" text-anchor="middle" >18</text>
<line x1="322.12" y1="613.5" x2="322.12" y2="616.5" stroke="#231f20" stroke-width="1.0"/>
<text x="322.12" y="626.60" font-size="8.0" fill="#231f20" stroke="#231f20" stroke-width="0.22" text-anchor="middle" >20</text>
<line x1="349.40" y1="613.5" x2="349.40" y2="616.5" stroke="#231f20" stroke-width="1.0"/>
<text x="349.40" y="626.60" font-size="8.0" fill="#231f20" stroke="#231f20" stroke-width="0.22" text-anchor="middle" >22</text>
<polyline points="226.64,611.00 253.92,607.30 281.20,598.70 308.48,574.00 335.76,543.30" fill="none" stroke="#a8233a" stroke-width="1.3"/>
<circle cx="226.64" cy="611.00" r="3.1" fill="#a8233a"/>
<circle cx="253.92" cy="607.30" r="3.1" fill="#a8233a"/>
<circle cx="281.20" cy="598.70" r="3.1" fill="#a8233a"/>
<circle cx="308.48" cy="574.00" r="3.1" fill="#a8233a"/>
<circle cx="335.76" cy="543.30" r="3.1" fill="#a8233a"/>
<polyline points="226.64,613.20 253.92,612.50 281.20,605.50 308.48,588.20 335.76,495.00" fill="none" stroke="#6aab4b" stroke-width="1.3"/>
<circle cx="226.64" cy="613.20" r="3.1" fill="#6aab4b"/>
<circle cx="253.92" cy="612.50" r="3.1" fill="#6aab4b"/>
<circle cx="281.20" cy="605.50" r="3.1" fill="#6aab4b"/>
<circle cx="308.48" cy="588.20" r="3.1" fill="#6aab4b"/>
<circle cx="335.76" cy="495.00" r="3.1" fill="#6aab4b"/>
<line x1="217.3" y1="490.9" x2="236.2" y2="490.9" stroke="#a8233a" stroke-width="1.1"/>
<circle cx="226.75" cy="490.9" r="2.7" fill="#a8233a"/>
<text x="238.70" y="493.50" font-size="7.6" fill="#231f20" stroke="#231f20" stroke-width="0.22" text-anchor="start" textLength="48.60" lengthAdjust="spacingAndGlyphs" >1&#956;M Pom Rep1</text>
<line x1="217.3" y1="502.8" x2="236.2" y2="502.8" stroke="#6aab4b" stroke-width="1.1"/>
<circle cx="226.75" cy="502.8" r="2.7" fill="#6aab4b"/>
<text x="238.70" y="505.40" font-size="7.6" fill="#231f20" stroke="#231f20" stroke-width="0.22" text-anchor="start" textLength="48.60" lengthAdjust="spacingAndGlyphs" >1&#956;M Pom Rep2</text>
<text x="231.70" y="640.20" font-size="9.4" fill="#231f20" stroke="#231f20" stroke-width="0.22" text-anchor="start" textLength="102.10" lengthAdjust="spacingAndGlyphs" >Days into drug treatment</text>
<path d="M368.8,481.5 V613.5 H511.2" fill="none" stroke="#231f20" stroke-width="1.1"/>
<line x1="365.40000000000003" y1="613.50" x2="368.8" y2="613.50" stroke="#231f20" stroke-width="1.0"/>
<line x1="365.40000000000003" y1="581.33" x2="368.8" y2="581.33" stroke="#231f20" stroke-width="1.0"/>
<line x1="365.40000000000003" y1="549.15" x2="368.8" y2="549.15" stroke="#231f20" stroke-width="1.0"/>
<line x1="365.40000000000003" y1="516.98" x2="368.8" y2="516.98" stroke="#231f20" stroke-width="1.0"/>
<line x1="365.40000000000003" y1="484.80" x2="368.8" y2="484.80" stroke="#231f20" stroke-width="1.0"/>
<line x1="368.80" y1="613.5" x2="368.80" y2="616.5" stroke="#231f20" stroke-width="1.0"/>
<text x="368.80" y="626.60" font-size="8.0" fill="#231f20" stroke="#231f20" stroke-width="0.22" text-anchor="middle" >12</text>
<line x1="396.70" y1="613.5" x2="396.70" y2="616.5" stroke="#231f20" stroke-width="1.0"/>
<text x="396.70" y="626.60" font-size="8.0" fill="#231f20" stroke="#231f20" stroke-width="0.22" text-anchor="middle" >14</text>
<line x1="424.60" y1="613.5" x2="424.60" y2="616.5" stroke="#231f20" stroke-width="1.0"/>
<text x="424.60" y="626.60" font-size="8.0" fill="#231f20" stroke="#231f20" stroke-width="0.22" text-anchor="middle" >16</text>
<line x1="452.50" y1="613.5" x2="452.50" y2="616.5" stroke="#231f20" stroke-width="1.0"/>
<text x="452.50" y="626.60" font-size="8.0" fill="#231f20" stroke="#231f20" stroke-width="0.22" text-anchor="middle" >18</text>
<line x1="480.40" y1="613.5" x2="480.40" y2="616.5" stroke="#231f20" stroke-width="1.0"/>
<text x="480.40" y="626.60" font-size="8.0" fill="#231f20" stroke="#231f20" stroke-width="0.22" text-anchor="middle" >20</text>
<line x1="508.30" y1="613.5" x2="508.30" y2="616.5" stroke="#231f20" stroke-width="1.0"/>
<text x="508.30" y="626.60" font-size="8.0" fill="#231f20" stroke="#231f20" stroke-width="0.22" text-anchor="middle" >22</text>
<polyline points="382.75,613.00 410.65,610.70 438.55,605.00 466.45,585.50 494.35,506.00" fill="none" stroke="#a8233a" stroke-width="1.3"/>
<circle cx="382.75" cy="613.00" r="3.1" fill="#a8233a"/>
<circle cx="410.65" cy="610.70" r="3.1" fill="#a8233a"/>
<circle cx="438.55" cy="605.00" r="3.1" fill="#a8233a"/>
<circle cx="466.45" cy="585.50" r="3.1" fill="#a8233a"/>
<circle cx="494.35" cy="506.00" r="3.1" fill="#a8233a"/>
<polyline points="382.75,613.00 410.65,610.70 438.55,606.40 466.45,585.50 494.35,509.30" fill="none" stroke="#6aab4b" stroke-width="1.3"/>
<circle cx="382.75" cy="613.00" r="3.1" fill="#6aab4b"/>
<circle cx="410.65" cy="610.70" r="3.1" fill="#6aab4b"/>
<circle cx="438.55" cy="606.40" r="3.1" fill="#6aab4b"/>
<circle cx="466.45" cy="585.50" r="3.1" fill="#6aab4b"/>
<circle cx="494.35" cy="509.30" r="3.1" fill="#6aab4b"/>
<line x1="373.8" y1="490.1" x2="392.3" y2="490.1" stroke="#a8233a" stroke-width="1.1"/>
<circle cx="383.05" cy="490.1" r="2.7" fill="#a8233a"/>
<text x="395.80" y="492.70" font-size="7.6" fill="#231f20" stroke="#231f20" stroke-width="0.22" text-anchor="start" textLength="56.20" lengthAdjust="spacingAndGlyphs" >1&#956;M CC-122 Rep1</text>
<line x1="373.8" y1="502.5" x2="392.3" y2="502.5" stroke="#6aab4b" stroke-width="1.1"/>
<circle cx="383.05" cy="502.5" r="2.7" fill="#6aab4b"/>
<text x="395.80" y="505.10" font-size="7.6" fill="#231f20" stroke="#231f20" stroke-width="0.22" text-anchor="start" textLength="56.20" lengthAdjust="spacingAndGlyphs" >1&#956;M CC-122 Rep2</text>
<text x="389.30" y="640.20" font-size="9.4" fill="#231f20" stroke="#231f20" stroke-width="0.22" text-anchor="start" textLength="101.60" lengthAdjust="spacingAndGlyphs" >Days into drug treatment</text>
<rect x="0" y="0" width="1" height="650" fill="#484848"/>
<rect x="1" y="1" width="1" height="647" fill="#8a8a8a"/>
<rect x="519" y="0" width="1" height="650" fill="#484848"/>
<rect x="518" y="1" width="1" height="647" fill="#8a8a8a"/>
<rect x="0" y="649" width="520" height="1" fill="#484848"/>
<rect x="1" y="648" width="518" height="1" fill="#8a8a8a"/>
<rect x="0" y="0" width="520" height="1" fill="#050505"/>
<rect x="2" y="1" width="516" height="1" fill="#e6e6e6"/>
</svg></body></html>
